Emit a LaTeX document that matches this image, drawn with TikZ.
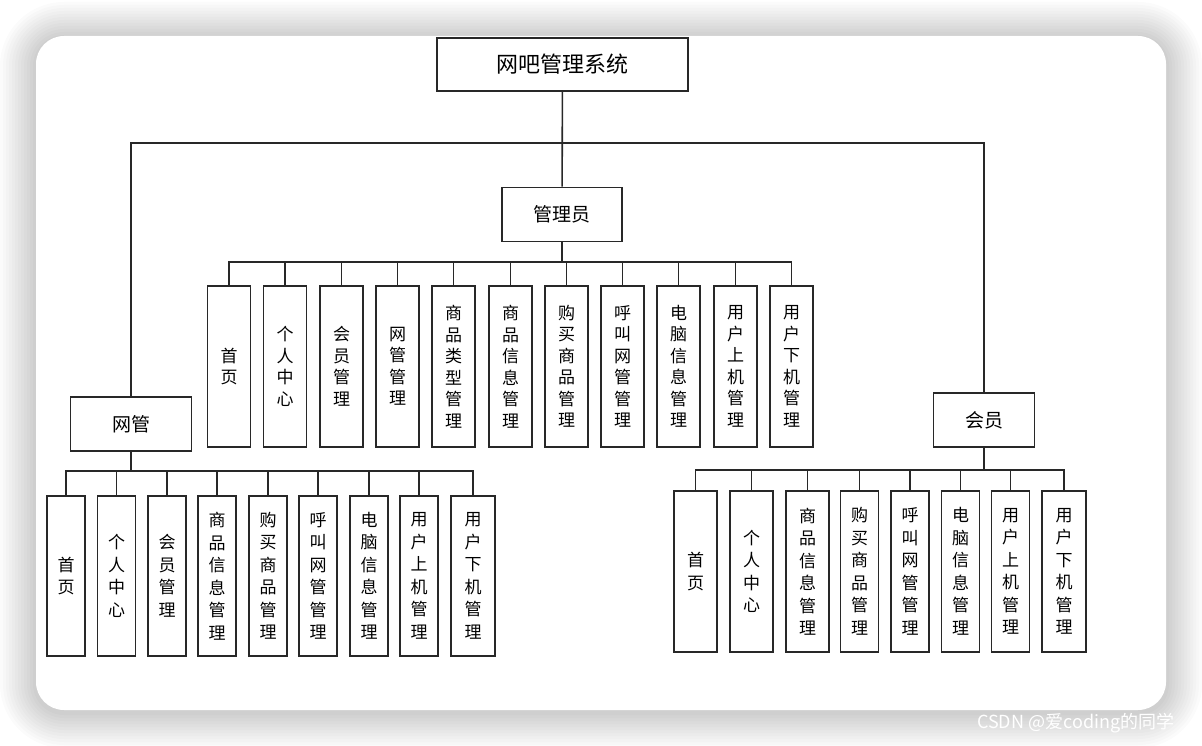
\documentclass[tikz,border=0pt]{standalone}
\usepackage{fontspec}
\newfontfamily\cjk{Noto Sans CJK SC}
\usetikzlibrary{positioning}
\definecolor{boxline}{RGB}{40,40,40}

\tikzset{
    sysbox/.style={draw=boxline, line width=1.6pt, inner sep=0pt,
        font=\cjk\fontsize{22}{26}\selectfont, minimum width=251pt, minimum height=53pt},
    rolebox/.style={draw=boxline, line width=1.6pt, inner sep=0pt,
        font=\cjk\fontsize{19}{22}\selectfont, minimum height=54pt},
    funcbox/.style={draw=boxline, line width=1.6pt, inner sep=0pt, align=center,
        font=\cjk\fontsize{17}{21.5}\selectfont, minimum height=161pt},
    link/.style={draw=boxline, line width=1.6pt}
}

\begin{document}
\begin{tikzpicture}[x=1pt, y=-1pt]
    \useasboundingbox (0,0) rectangle (1202,746);
    \fill[white] (0,0) rectangle (1202,746);

    % card with soft shadow
    \foreach \k in {1,...,12} {
        \pgfmathsetmacro\r{28+3*\k}
        \fill[black, opacity=0.015, rounded corners=\r pt]
            (36-3*\k,38-3*\k) rectangle (1166+3*\k,712+3*\k);
    }
    \fill[white, rounded corners=28pt] (36,36) rectangle (1166,710);

    % top levels
    \node[sysbox] (sys) at (562.5,64.5) {网吧管理系统};
    \node[rolebox, minimum width=120pt] (admin) at (562,214.5) {管理员};
    \node[rolebox, minimum width=121pt] (netadmin) at (131,424) {网管};
    \node[rolebox, minimum width=101pt] (member) at (984,420) {会员};

    \coordinate (topbus) at (562,143);
    \draw[link] (sys) -- (admin);
    \draw[link] (netadmin.north) |- (topbus) -| (member.north);

    % admin functions
    \foreach \x/\t [count=\i] in {
        229/{首\\页}, 285/{个\\人\\中\\心}, 341.5/{会\\员\\管\\理}, 397.5/{网\\管\\管\\理},
        453.5/{商\\品\\类\\型\\管\\理}, 510.5/{商\\品\\信\\息\\管\\理},
        566.5/{购\\买\\商\\品\\管\\理}, 622.5/{呼\\叫\\网\\管\\管\\理},
        678.5/{电\\脑\\信\\息\\管\\理}, 735.5/{用\\户\\上\\机\\管\\理},
        791.5/{用\\户\\下\\机\\管\\理}}
        \node[funcbox, minimum width=43pt] (a\i) at (\x,366.5) {\t};

    \coordinate (abus) at (562,262);
    \draw[link] (admin) -- (abus);
    \foreach \i in {1,...,11}
        \draw[link] (a\i.north) |- (abus);

    % net admin functions
    \foreach \x/\w/\t [count=\i] in {
        66/38/{首\\页}, 116.5/38/{个\\人\\中\\心}, 167/38/{会\\员\\管\\理},
        217/38/{商\\品\\信\\息\\管\\理}, 268/38/{购\\买\\商\\品\\管\\理},
        318/38/{呼\\叫\\网\\管\\管\\理}, 369/38/{电\\脑\\信\\息\\管\\理},
        419/38/{用\\户\\上\\机\\管\\理}, 473/44/{用\\户\\下\\机\\管\\理}}
        \node[funcbox, minimum width=\w pt, minimum height=160pt,
              font=\cjk\fontsize{17}{22.5}\selectfont] (n\i) at (\x,576) {\t};

    \coordinate (nbus) at (131,471);
    \draw[link] (netadmin) -- (nbus);
    \foreach \i in {1,...,9}
        \draw[link] (n\i.north) |- (nbus);

    % member functions
    \foreach \x/\w/\t [count=\i] in {
        695.5/43/{首\\页}, 751.5/43/{个\\人\\中\\心}, 807.5/43/{商\\品\\信\\息\\管\\理},
        859.5/38/{购\\买\\商\\品\\管\\理}, 910/38/{呼\\叫\\网\\管\\管\\理},
        960.5/38/{电\\脑\\信\\息\\管\\理}, 1010.5/38/{用\\户\\上\\机\\管\\理},
        1064/44/{用\\户\\下\\机\\管\\理}}
        \node[funcbox, minimum width=\w pt,
              font=\cjk\fontsize{17}{22.5}\selectfont] (m\i) at (\x,571.5) {\t};

    \coordinate (mbus) at (984,470);
    \draw[link] (member) -- (mbus);
    \foreach \i in {1,...,8}
        \draw[link] (m\i.north) |- (mbus);

    % watermark
    \node[anchor=west, text=white, font=\cjk\fontsize{18}{20}\selectfont, inner sep=0pt]
        (mark) at (977,723) {CSDN @爱coding的同学};
\end{tikzpicture}
\end{document}
